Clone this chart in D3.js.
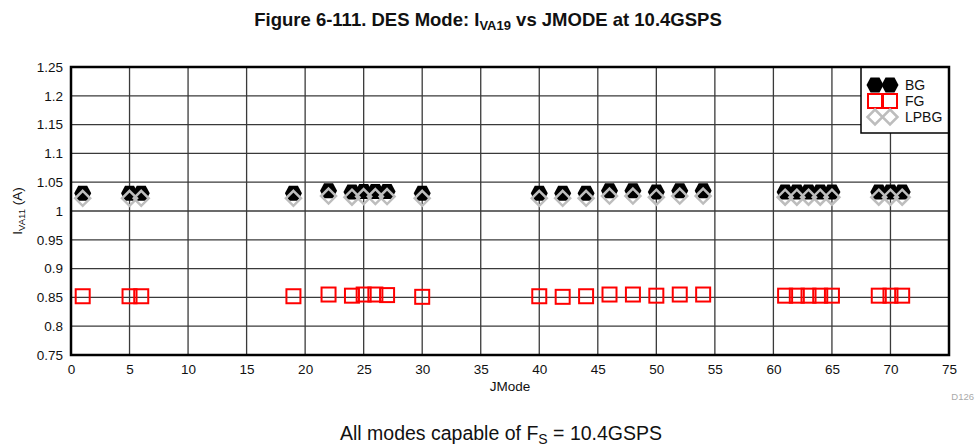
<!DOCTYPE html>
<html>
<head>
<meta charset="utf-8">
<script src="https://cdn.jsdelivr.net/npm/d3@7/dist/d3.min.js"></script>
<style>
  html, body { margin: 0; padding: 0; background: #fff; }
  svg { display: block; font-family: "Liberation Sans", Arial, sans-serif; }
</style>
</head>
<body>
<svg id="chart" width="976" height="448"></svg>
<script>
// JMODE settings measured at 10.4 GSPS
const jmodes = [1, 5, 6, 19, 22, 24, 25, 26, 27, 30, 40, 42, 44, 46, 48, 50, 52, 54, 61, 62, 63, 64, 65, 69, 70, 71];
// Supply current IVA11 (A) per bandgap setting
const bgValues   = [1.031, 1.031, 1.031, 1.031, 1.035, 1.033, 1.034, 1.034, 1.034, 1.031, 1.031, 1.031, 1.031, 1.035, 1.035, 1.033, 1.035, 1.035, 1.033, 1.033, 1.033, 1.033, 1.033, 1.033, 1.033, 1.033];
const fgValues   = [0.852, 0.852, 0.852, 0.852, 0.855, 0.853, 0.855, 0.855, 0.854, 0.851, 0.852, 0.851, 0.852, 0.855, 0.855, 0.853, 0.855, 0.855, 0.853, 0.853, 0.853, 0.853, 0.853, 0.853, 0.853, 0.853];
const lpbgValues = [1.022, 1.022, 1.022, 1.022, 1.026, 1.024, 1.025, 1.025, 1.025, 1.022, 1.022, 1.022, 1.022, 1.026, 1.026, 1.024, 1.026, 1.026, 1.024, 1.024, 1.024, 1.024, 1.024, 1.024, 1.024, 1.024];
const seriesNames = ["BG", "FG", "LPBG"];
const xTicks = d3.range(0, 76, 5);
const yTicks = [0.75, 0.8, 0.85, 0.9, 0.95, 1, 1.05, 1.1, 1.15, 1.2, 1.25];

const svg = d3.select("#chart");
const plotL = 71, plotR = 949, plotT = 67, plotB = 355;

const x = d3.scaleLinear().domain([0, 75]).range([plotL, plotR]);
const y = d3.scaleLinear().domain([0.75, 1.25]).range([plotB, plotT]);

// Title
const title = svg.append("text")
  .attr("x", 488).attr("y", 26)
  .attr("text-anchor", "middle")
  .attr("font-size", 18.5).attr("font-weight", "bold").attr("fill", "#111");
title.append("tspan").text("Figure 6-111. DES Mode: I");
title.append("tspan").attr("font-size", 13).attr("dy", 4).text("VA19");
title.append("tspan").attr("dy", -4).text(" vs JMODE at 10.4GSPS");

// Grid lines
const grid = svg.append("g").attr("stroke", "#3a3a3a").attr("stroke-width", 1.3);
grid.selectAll("line.v").data(xTicks.slice(1, -1)).join("line")
  .attr("x1", d => x(d)).attr("x2", d => x(d)).attr("y1", plotT).attr("y2", plotB);
grid.selectAll("line.h").data(yTicks.slice(1, -1)).join("line")
  .attr("x1", plotL).attr("x2", plotR).attr("y1", d => y(d)).attr("y2", d => y(d));

// Axes (labels only; frame drawn separately)
const xAxis = svg.append("g").attr("transform", `translate(0,${plotB})`)
  .call(d3.axisBottom(x).tickValues(xTicks).tickSize(0).tickPadding(9).tickFormat(d3.format("d")));
xAxis.select(".domain").remove();
xAxis.selectAll("text").attr("font-size", 13.5).attr("fill", "#111")
  .attr("font-family", "'Liberation Sans Narrow', 'Liberation Sans', Arial, sans-serif");

const yAxis = svg.append("g").attr("transform", `translate(${plotL},0)`)
  .call(d3.axisLeft(y).tickValues(yTicks).tickSize(0).tickPadding(8).tickFormat(d => String(+d.toFixed(2))));
yAxis.select(".domain").remove();
yAxis.selectAll("text").attr("font-size", 13.5).attr("fill", "#111");

// Axis titles
svg.append("text").attr("x", (plotL + plotR) / 2).attr("y", 391)
  .attr("text-anchor", "middle").attr("font-size", 13.5).attr("fill", "#111")
  .attr("font-family", "'Liberation Sans Narrow', 'Liberation Sans', Arial, sans-serif")
  .text("JMode");

const yTitle = svg.append("text")
  .attr("transform", `translate(22,${(plotT + plotB) / 2}) rotate(-90)`)
  .attr("text-anchor", "middle").attr("font-size", 13.5).attr("fill", "#111");
yTitle.append("tspan").text("I");
yTitle.append("tspan").attr("font-size", 9.5).attr("dy", 3).text("VA11");
yTitle.append("tspan").attr("dy", -3).text(" (A)");

// Marker shapes
const hexPath = "M-8.5,0L-4.5,-7.5L4.5,-7.5L8.5,0L4.5,7.5L-4.5,7.5Z";
const diamondPath = "M0,-7.5L7.5,0L0,7.5L-7.5,0Z";

const plot = svg.append("g");
const pts = jmodes.map((j, i) => ({ j, bg: bgValues[i], fg: fgValues[i], lp: lpbgValues[i] }));

plot.selectAll("path.bg").data(pts).join("path").attr("class", "bg")
  .attr("d", hexPath).attr("fill", "#000")
  .attr("transform", d => `translate(${x(d.j)},${y(d.bg)})`);

plot.selectAll("path.lp").data(pts).join("path").attr("class", "lp")
  .attr("d", diamondPath).attr("fill", "none").attr("stroke", "#bdbdbd").attr("stroke-width", 2.5)
  .attr("transform", d => `translate(${x(d.j)},${y(d.lp)})`);

plot.selectAll("rect.fg").data(pts).join("rect").attr("class", "fg")
  .attr("x", d => x(d.j) - 7).attr("y", d => y(d.fg) - 7)
  .attr("width", 14).attr("height", 14)
  .attr("fill", "none").attr("stroke", "#f00").attr("stroke-width", 2);

// Legend
const lg = svg.append("g");
lg.append("rect").attr("x", 861).attr("y", plotT).attr("width", plotR - 861).attr("height", 66)
  .attr("fill", "#fff").attr("stroke", "#000").attr("stroke-width", 1.5);
const legendRows = [85, 101, 117];
seriesNames.forEach((name, i) => {
  const ly = legendRows[i];
  [875, 890].forEach(cx => {
    if (name === "BG") {
      lg.append("path").attr("d", hexPath).attr("fill", "#000").attr("transform", `translate(${cx},${ly})`);
    } else if (name === "FG") {
      lg.append("rect").attr("x", cx - 7).attr("y", ly - 7).attr("width", 14).attr("height", 14)
        .attr("fill", "none").attr("stroke", "#f00").attr("stroke-width", 2);
    } else {
      lg.append("path").attr("d", diamondPath).attr("fill", "none").attr("stroke", "#bdbdbd")
        .attr("stroke-width", 2.5).attr("transform", `translate(${cx},${ly})`);
    }
  });
  lg.append("text").attr("x", 905).attr("y", ly + 5).attr("font-size", 14).attr("fill", "#111").text(name);
});

// Plot frame
svg.append("rect").attr("x", plotL).attr("y", plotT).attr("width", plotR - plotL).attr("height", plotB - plotT)
  .attr("fill", "none").attr("stroke", "#000").attr("stroke-width", 2.5);

// Figure id and caption
svg.append("text").attr("x", 974).attr("y", 400).attr("text-anchor", "end")
  .attr("font-size", 9.5).attr("fill", "#aaa").text("D126");

const caption = svg.append("text").attr("x", 501).attr("y", 440)
  .attr("text-anchor", "middle").attr("font-size", 19.5).attr("fill", "#111");
caption.append("tspan").text("All modes capable of F");
caption.append("tspan").attr("font-size", 14).attr("dy", 4).text("S");
caption.append("tspan").attr("dy", -4).text(" = 10.4GSPS");
</script>
</body>
</html>
